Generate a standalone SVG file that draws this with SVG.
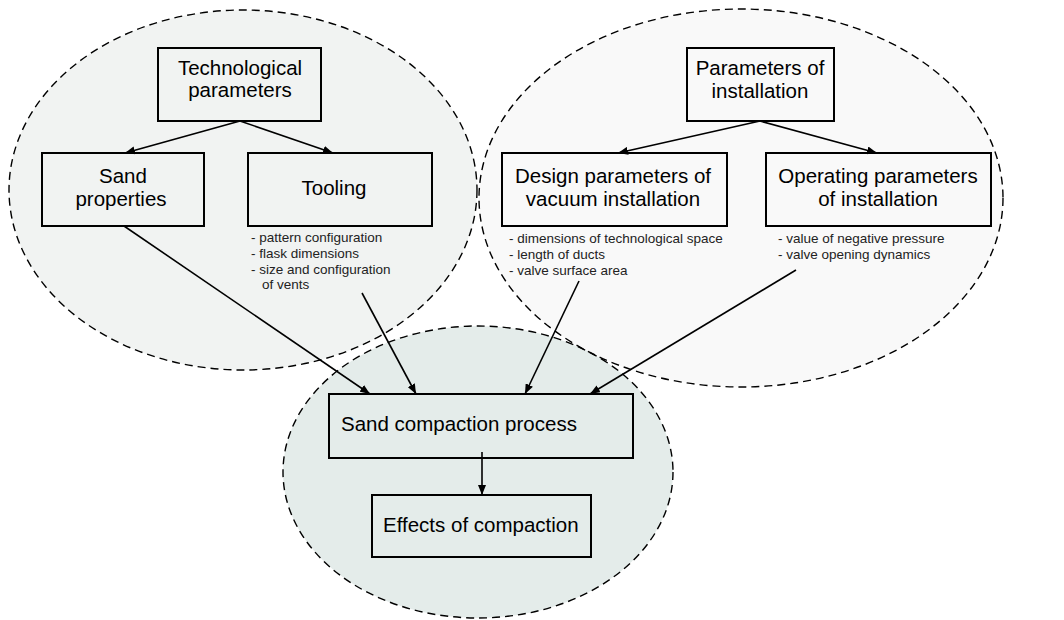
<svg xmlns="http://www.w3.org/2000/svg" width="1064" height="620" viewBox="0 0 1064 620">
<defs>
<style>
.zone{stroke:#000;stroke-width:1.4;stroke-dasharray:8 5;fill:none}
.box{fill:none;stroke:#000;stroke-width:2}
.t{font-family:"Liberation Sans",Arial,sans-serif;font-size:20.5px;fill:#000;text-anchor:middle}
.tl{font-family:"Liberation Sans",Arial,sans-serif;font-size:20.5px;fill:#000}
.s{font-family:"Liberation Sans",Arial,sans-serif;font-size:13.5px;fill:#222}
.c{stroke:#000;stroke-width:1.6;fill:none;marker-end:url(#ah)}
</style>
<marker id="ah" viewBox="0 0 10 8" refX="10" refY="4" markerWidth="10" markerHeight="8" markerUnits="userSpaceOnUse" orient="auto">
<path d="M0,0 L10,4 L0,8 z" fill="#000"/>
</marker>
</defs>
<rect width="1064" height="620" fill="#fff"/>
<g id="zones">
<ellipse cx="243" cy="190" rx="234" ry="180" fill="#f1f3f2"/>
<ellipse cx="741" cy="198" rx="262" ry="189" fill="#f9f9f9"/>
<ellipse cx="478" cy="472" rx="195" ry="146" fill="#e4ecea"/>
<ellipse class="zone" cx="243" cy="190" rx="234" ry="180"/>
<ellipse class="zone" cx="741" cy="198" rx="262" ry="189"/>
<ellipse class="zone" cx="478" cy="472" rx="195" ry="146"/>
</g>
<g id="connectors">
<line class="c" x1="240" y1="121" x2="125" y2="153"/>
<line class="c" x1="240" y1="121" x2="333" y2="153"/>
<line class="c" x1="760" y1="121" x2="618" y2="153"/>
<line class="c" x1="760" y1="121" x2="877" y2="153"/>
<line class="c" x1="124" y1="226" x2="370" y2="394"/>
<line class="c" x1="362" y1="293" x2="416" y2="394"/>
<line class="c" x1="579" y1="281" x2="525" y2="394"/>
<line class="c" x1="796" y1="270" x2="590" y2="394"/>
<line class="c" x1="482" y1="452" x2="482" y2="495"/>
</g>
<g id="tech">
<rect class="box" x="158" y="48" width="163" height="73"/>
<text class="t" x="240" y="75">Technological</text>
<text class="t" x="240" y="97">parameters</text>
</g>
<g id="sand">
<rect class="box" x="42" y="153" width="162" height="73"/>
<text class="t" x="123" y="183">Sand</text>
<text class="t" x="121" y="206">properties</text>
</g>
<g id="tooling">
<rect class="box" x="248" y="153" width="184" height="73"/>
<text class="t" x="334" y="195">Tooling</text>
<text class="s" x="251" y="242">- pattern configuration</text>
<text class="s" x="251" y="258">- flask dimensions</text>
<text class="s" x="251" y="274">- size and configuration</text>
<text class="s" x="262" y="289">of vents</text>
</g>
<g id="install">
<rect class="box" x="687" y="48" width="147" height="73"/>
<text class="t" x="760" y="75">Parameters of</text>
<text class="t" x="760" y="98">installation</text>
</g>
<g id="design">
<rect class="box" x="502" y="153" width="225" height="73"/>
<text class="t" x="613" y="183">Design parameters of</text>
<text class="t" x="613" y="206">vacuum installation</text>
<text class="s" x="509" y="243">- dimensions of technological space</text>
<text class="s" x="509" y="259">- length of ducts</text>
<text class="s" x="509" y="275">- valve surface area</text>
</g>
<g id="operating">
<rect class="box" x="766" y="153" width="225" height="73"/>
<text class="t" x="878" y="183">Operating parameters</text>
<text class="t" x="878" y="206">of installation</text>
<text class="s" x="778" y="243">- value of negative pressure</text>
<text class="s" x="778" y="259">- valve opening dynamics</text>
</g>
<g id="process">
<rect class="box" x="329" y="394" width="304" height="64"/>
<text class="tl" x="341" y="431">Sand compaction process</text>
</g>
<g id="effects">
<rect class="box" x="372" y="495" width="219" height="62"/>
<text class="tl" x="383" y="532">Effects of compaction</text>
</g>
</svg>
